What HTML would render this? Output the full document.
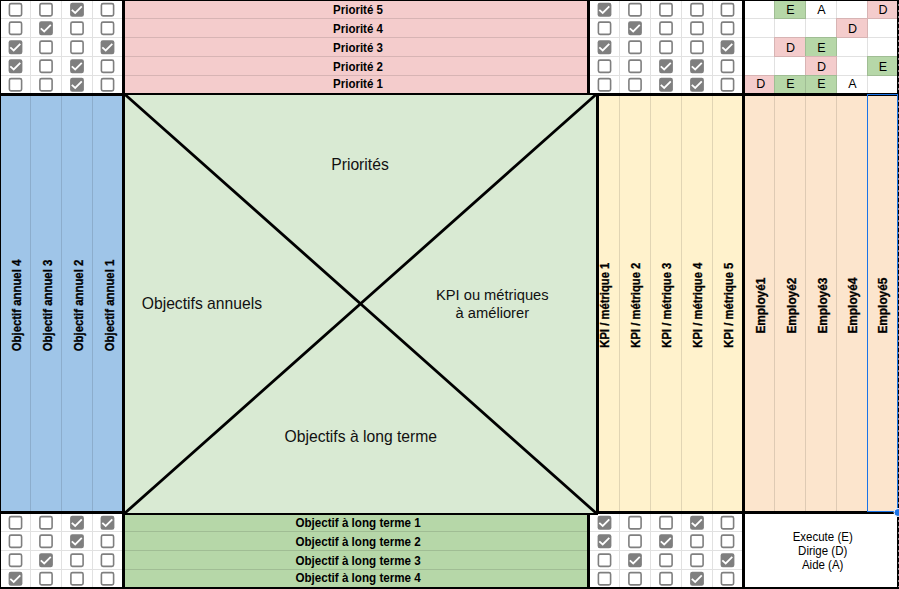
<!DOCTYPE html>
<html><head><meta charset="utf-8"><style>
html,body{margin:0;padding:0;background:#fff;overflow:hidden;width:899px;height:589px}
svg{display:block}
</style></head><body>
<svg width="899" height="589" viewBox="0 0 899 589" style="font-family:'Liberation Sans',sans-serif">
<rect x="0" y="0" width="899" height="589" fill="#fff"/>
<rect x="125" y="0" width="462" height="93" fill="#f4cccc"/>
<rect x="1" y="96" width="121" height="415" fill="#9fc5e8"/>
<rect x="125" y="95" width="471" height="418" fill="#d9ead3"/>
<rect x="599" y="96" width="143" height="415" fill="#fff2cc"/>
<rect x="745" y="96" width="152" height="415" fill="#fce5cd"/>
<rect x="125" y="515" width="462" height="72" fill="#b6d7a8"/>
<rect x="774" y="0" width="32" height="19" fill="#b6d7a8"/>
<rect x="867" y="0" width="31" height="19" fill="#f4cccc"/>
<rect x="836" y="18" width="32" height="20" fill="#f4cccc"/>
<rect x="774" y="37" width="32" height="20" fill="#f4cccc"/>
<rect x="805" y="37" width="32" height="20" fill="#b6d7a8"/>
<rect x="805" y="56" width="32" height="20" fill="#f4cccc"/>
<rect x="867" y="56" width="31" height="20" fill="#b6d7a8"/>
<rect x="744" y="75" width="31" height="19" fill="#f4cccc"/>
<rect x="774" y="75" width="32" height="19" fill="#b6d7a8"/>
<rect x="805" y="75" width="32" height="19" fill="#b6d7a8"/>
<g opacity="0.115">
<rect x="30" y="1" width="1" height="92" fill="#000"/>
<rect x="30" y="96" width="1" height="415" fill="#000"/>
<rect x="30" y="514" width="1" height="73" fill="#000"/>
<rect x="61" y="1" width="1" height="92" fill="#000"/>
<rect x="61" y="96" width="1" height="415" fill="#000"/>
<rect x="61" y="514" width="1" height="73" fill="#000"/>
<rect x="92" y="1" width="1" height="92" fill="#000"/>
<rect x="92" y="96" width="1" height="415" fill="#000"/>
<rect x="92" y="514" width="1" height="73" fill="#000"/>
<rect x="1" y="18" width="121" height="1" fill="#000"/>
<rect x="125" y="18" width="462" height="1" fill="#000"/>
<rect x="590" y="18" width="152" height="1" fill="#000"/>
<rect x="745" y="18" width="152" height="1" fill="#000"/>
<rect x="1" y="37" width="121" height="1" fill="#000"/>
<rect x="125" y="37" width="462" height="1" fill="#000"/>
<rect x="590" y="37" width="152" height="1" fill="#000"/>
<rect x="745" y="37" width="152" height="1" fill="#000"/>
<rect x="1" y="56" width="121" height="1" fill="#000"/>
<rect x="125" y="56" width="462" height="1" fill="#000"/>
<rect x="590" y="56" width="152" height="1" fill="#000"/>
<rect x="745" y="56" width="152" height="1" fill="#000"/>
<rect x="1" y="75" width="121" height="1" fill="#000"/>
<rect x="125" y="75" width="462" height="1" fill="#000"/>
<rect x="590" y="75" width="152" height="1" fill="#000"/>
<rect x="745" y="75" width="152" height="1" fill="#000"/>
<rect x="1" y="531" width="121" height="1" fill="#000"/>
<rect x="125" y="531" width="462" height="1" fill="#000"/>
<rect x="590" y="531" width="152" height="1" fill="#000"/>
<rect x="1" y="550" width="121" height="1" fill="#000"/>
<rect x="125" y="550" width="462" height="1" fill="#000"/>
<rect x="590" y="550" width="152" height="1" fill="#000"/>
<rect x="1" y="569" width="121" height="1" fill="#000"/>
<rect x="125" y="569" width="462" height="1" fill="#000"/>
<rect x="590" y="569" width="152" height="1" fill="#000"/>
<rect x="619" y="1" width="1" height="92" fill="#000"/>
<rect x="619" y="96" width="1" height="415" fill="#000"/>
<rect x="619" y="514" width="1" height="73" fill="#000"/>
<rect x="650" y="1" width="1" height="92" fill="#000"/>
<rect x="650" y="96" width="1" height="415" fill="#000"/>
<rect x="650" y="514" width="1" height="73" fill="#000"/>
<rect x="681" y="1" width="1" height="92" fill="#000"/>
<rect x="681" y="96" width="1" height="415" fill="#000"/>
<rect x="681" y="514" width="1" height="73" fill="#000"/>
<rect x="712" y="1" width="1" height="92" fill="#000"/>
<rect x="712" y="96" width="1" height="415" fill="#000"/>
<rect x="712" y="514" width="1" height="73" fill="#000"/>
<rect x="774" y="1" width="1" height="92" fill="#000"/>
<rect x="774" y="96" width="1" height="415" fill="#000"/>
<rect x="805" y="1" width="1" height="92" fill="#000"/>
<rect x="805" y="96" width="1" height="415" fill="#000"/>
<rect x="836" y="1" width="1" height="92" fill="#000"/>
<rect x="836" y="96" width="1" height="415" fill="#000"/>
<rect x="867" y="1" width="1" height="92" fill="#000"/>
<rect x="867" y="96" width="1" height="415" fill="#000"/>
</g>
<rect x="0" y="0" width="899" height="1" fill="#000"/>
<rect x="0" y="0" width="1" height="589" fill="#000"/>
<rect x="897" y="0" width="2" height="589" fill="#000"/>
<rect x="898" y="4" width="1" height="2" fill="#8a8a8a"/>
<rect x="898" y="10" width="1" height="2" fill="#8a8a8a"/>
<rect x="898" y="16" width="1" height="2" fill="#8a8a8a"/>
<rect x="898" y="22" width="1" height="2" fill="#8a8a8a"/>
<rect x="898" y="28" width="1" height="2" fill="#8a8a8a"/>
<rect x="898" y="34" width="1" height="2" fill="#8a8a8a"/>
<rect x="898" y="40" width="1" height="2" fill="#8a8a8a"/>
<rect x="898" y="46" width="1" height="2" fill="#8a8a8a"/>
<rect x="898" y="52" width="1" height="2" fill="#8a8a8a"/>
<rect x="898" y="58" width="1" height="2" fill="#8a8a8a"/>
<rect x="898" y="64" width="1" height="2" fill="#8a8a8a"/>
<rect x="898" y="70" width="1" height="2" fill="#8a8a8a"/>
<rect x="898" y="76" width="1" height="2" fill="#8a8a8a"/>
<rect x="898" y="82" width="1" height="2" fill="#8a8a8a"/>
<rect x="898" y="88" width="1" height="2" fill="#8a8a8a"/>
<rect x="898" y="94" width="1" height="2" fill="#8a8a8a"/>
<rect x="898" y="100" width="1" height="2" fill="#8a8a8a"/>
<rect x="898" y="106" width="1" height="2" fill="#8a8a8a"/>
<rect x="898" y="112" width="1" height="2" fill="#8a8a8a"/>
<rect x="898" y="118" width="1" height="2" fill="#8a8a8a"/>
<rect x="898" y="124" width="1" height="2" fill="#8a8a8a"/>
<rect x="898" y="130" width="1" height="2" fill="#8a8a8a"/>
<rect x="898" y="136" width="1" height="2" fill="#8a8a8a"/>
<rect x="898" y="142" width="1" height="2" fill="#8a8a8a"/>
<rect x="898" y="148" width="1" height="2" fill="#8a8a8a"/>
<rect x="898" y="154" width="1" height="2" fill="#8a8a8a"/>
<rect x="898" y="160" width="1" height="2" fill="#8a8a8a"/>
<rect x="898" y="166" width="1" height="2" fill="#8a8a8a"/>
<rect x="898" y="172" width="1" height="2" fill="#8a8a8a"/>
<rect x="898" y="178" width="1" height="2" fill="#8a8a8a"/>
<rect x="898" y="184" width="1" height="2" fill="#8a8a8a"/>
<rect x="898" y="190" width="1" height="2" fill="#8a8a8a"/>
<rect x="898" y="196" width="1" height="2" fill="#8a8a8a"/>
<rect x="898" y="202" width="1" height="2" fill="#8a8a8a"/>
<rect x="898" y="208" width="1" height="2" fill="#8a8a8a"/>
<rect x="898" y="214" width="1" height="2" fill="#8a8a8a"/>
<rect x="898" y="220" width="1" height="2" fill="#8a8a8a"/>
<rect x="898" y="226" width="1" height="2" fill="#8a8a8a"/>
<rect x="898" y="232" width="1" height="2" fill="#8a8a8a"/>
<rect x="898" y="238" width="1" height="2" fill="#8a8a8a"/>
<rect x="898" y="244" width="1" height="2" fill="#8a8a8a"/>
<rect x="898" y="250" width="1" height="2" fill="#8a8a8a"/>
<rect x="898" y="256" width="1" height="2" fill="#8a8a8a"/>
<rect x="898" y="262" width="1" height="2" fill="#8a8a8a"/>
<rect x="898" y="268" width="1" height="2" fill="#8a8a8a"/>
<rect x="898" y="274" width="1" height="2" fill="#8a8a8a"/>
<rect x="898" y="280" width="1" height="2" fill="#8a8a8a"/>
<rect x="898" y="286" width="1" height="2" fill="#8a8a8a"/>
<rect x="898" y="292" width="1" height="2" fill="#8a8a8a"/>
<rect x="898" y="298" width="1" height="2" fill="#8a8a8a"/>
<rect x="898" y="304" width="1" height="2" fill="#8a8a8a"/>
<rect x="898" y="310" width="1" height="2" fill="#8a8a8a"/>
<rect x="898" y="316" width="1" height="2" fill="#8a8a8a"/>
<rect x="898" y="322" width="1" height="2" fill="#8a8a8a"/>
<rect x="898" y="328" width="1" height="2" fill="#8a8a8a"/>
<rect x="898" y="334" width="1" height="2" fill="#8a8a8a"/>
<rect x="898" y="340" width="1" height="2" fill="#8a8a8a"/>
<rect x="898" y="346" width="1" height="2" fill="#8a8a8a"/>
<rect x="898" y="352" width="1" height="2" fill="#8a8a8a"/>
<rect x="898" y="358" width="1" height="2" fill="#8a8a8a"/>
<rect x="898" y="364" width="1" height="2" fill="#8a8a8a"/>
<rect x="898" y="370" width="1" height="2" fill="#8a8a8a"/>
<rect x="898" y="376" width="1" height="2" fill="#8a8a8a"/>
<rect x="898" y="382" width="1" height="2" fill="#8a8a8a"/>
<rect x="898" y="388" width="1" height="2" fill="#8a8a8a"/>
<rect x="898" y="394" width="1" height="2" fill="#8a8a8a"/>
<rect x="898" y="400" width="1" height="2" fill="#8a8a8a"/>
<rect x="898" y="406" width="1" height="2" fill="#8a8a8a"/>
<rect x="898" y="412" width="1" height="2" fill="#8a8a8a"/>
<rect x="898" y="418" width="1" height="2" fill="#8a8a8a"/>
<rect x="898" y="424" width="1" height="2" fill="#8a8a8a"/>
<rect x="898" y="430" width="1" height="2" fill="#8a8a8a"/>
<rect x="898" y="436" width="1" height="2" fill="#8a8a8a"/>
<rect x="898" y="442" width="1" height="2" fill="#8a8a8a"/>
<rect x="898" y="448" width="1" height="2" fill="#8a8a8a"/>
<rect x="898" y="454" width="1" height="2" fill="#8a8a8a"/>
<rect x="898" y="460" width="1" height="2" fill="#8a8a8a"/>
<rect x="898" y="466" width="1" height="2" fill="#8a8a8a"/>
<rect x="898" y="472" width="1" height="2" fill="#8a8a8a"/>
<rect x="898" y="478" width="1" height="2" fill="#8a8a8a"/>
<rect x="898" y="484" width="1" height="2" fill="#8a8a8a"/>
<rect x="898" y="490" width="1" height="2" fill="#8a8a8a"/>
<rect x="898" y="496" width="1" height="2" fill="#8a8a8a"/>
<rect x="898" y="502" width="1" height="2" fill="#8a8a8a"/>
<rect x="898" y="508" width="1" height="2" fill="#8a8a8a"/>
<rect x="898" y="514" width="1" height="2" fill="#8a8a8a"/>
<rect x="898" y="520" width="1" height="2" fill="#8a8a8a"/>
<rect x="898" y="526" width="1" height="2" fill="#8a8a8a"/>
<rect x="898" y="532" width="1" height="2" fill="#8a8a8a"/>
<rect x="898" y="538" width="1" height="2" fill="#8a8a8a"/>
<rect x="898" y="544" width="1" height="2" fill="#8a8a8a"/>
<rect x="898" y="550" width="1" height="2" fill="#8a8a8a"/>
<rect x="898" y="556" width="1" height="2" fill="#8a8a8a"/>
<rect x="898" y="562" width="1" height="2" fill="#8a8a8a"/>
<rect x="898" y="568" width="1" height="2" fill="#8a8a8a"/>
<rect x="898" y="574" width="1" height="2" fill="#8a8a8a"/>
<rect x="898" y="580" width="1" height="2" fill="#8a8a8a"/>
<rect x="898" y="586" width="1" height="2" fill="#8a8a8a"/>
<rect x="0" y="587" width="899" height="2" fill="#000"/>
<rect x="0" y="93" width="899" height="3" fill="#000"/>
<rect x="125" y="95" width="471" height="1" fill="#d9ead3"/>
<rect x="0" y="511" width="122" height="3" fill="#000"/>
<rect x="596" y="511" width="303" height="3" fill="#000"/>
<rect x="122" y="513" width="476" height="2" fill="#000"/>
<rect x="122" y="0" width="3" height="589" fill="#000"/>
<rect x="587" y="0" width="3" height="95" fill="#000"/>
<rect x="587" y="513" width="3" height="76" fill="#000"/>
<rect x="596" y="93" width="3" height="421" fill="#000"/>
<rect x="742" y="0" width="3" height="589" fill="#000"/>
<line x1="125" y1="94.5" x2="596" y2="513" stroke="#000" stroke-width="2.8"/>
<line x1="596" y1="94.5" x2="125" y2="513" stroke="#000" stroke-width="2.8"/>
<rect x="867.5" y="94.5" width="30" height="417" fill="none" stroke="#1a73e8" stroke-width="1"/>
<circle cx="898" cy="512.5" r="4" fill="#1a73e8" stroke="#fff" stroke-width="1"/>
<rect x="9.40" y="3.65" width="12.20" height="12.20" rx="1.6" fill="none" stroke="#7f7f7f" stroke-width="1.6"/>
<rect x="39.90" y="3.65" width="12.20" height="12.20" rx="1.6" fill="none" stroke="#7f7f7f" stroke-width="1.6"/>
<rect x="70.10" y="2.85" width="13.8" height="13.8" rx="2.2" fill="#7f7f7f"/>
<polyline points="71.80,9.85 75.20,12.95 81.80,6.35" fill="none" stroke="#fff" stroke-width="1.8"/>
<rect x="101.40" y="3.65" width="12.20" height="12.20" rx="1.6" fill="none" stroke="#7f7f7f" stroke-width="1.6"/>
<rect x="9.40" y="22.15" width="12.20" height="12.20" rx="1.6" fill="none" stroke="#7f7f7f" stroke-width="1.6"/>
<rect x="39.10" y="21.35" width="13.8" height="13.8" rx="2.2" fill="#7f7f7f"/>
<polyline points="40.80,28.35 44.20,31.45 50.80,24.85" fill="none" stroke="#fff" stroke-width="1.8"/>
<rect x="70.90" y="22.15" width="12.20" height="12.20" rx="1.6" fill="none" stroke="#7f7f7f" stroke-width="1.6"/>
<rect x="101.40" y="22.15" width="12.20" height="12.20" rx="1.6" fill="none" stroke="#7f7f7f" stroke-width="1.6"/>
<rect x="8.60" y="40.35" width="13.8" height="13.8" rx="2.2" fill="#7f7f7f"/>
<polyline points="10.30,47.35 13.70,50.45 20.30,43.85" fill="none" stroke="#fff" stroke-width="1.8"/>
<rect x="39.90" y="41.15" width="12.20" height="12.20" rx="1.6" fill="none" stroke="#7f7f7f" stroke-width="1.6"/>
<rect x="70.90" y="41.15" width="12.20" height="12.20" rx="1.6" fill="none" stroke="#7f7f7f" stroke-width="1.6"/>
<rect x="100.60" y="40.35" width="13.8" height="13.8" rx="2.2" fill="#7f7f7f"/>
<polyline points="102.30,47.35 105.70,50.45 112.30,43.85" fill="none" stroke="#fff" stroke-width="1.8"/>
<rect x="8.60" y="59.35" width="13.8" height="13.8" rx="2.2" fill="#7f7f7f"/>
<polyline points="10.30,66.35 13.70,69.45 20.30,62.85" fill="none" stroke="#fff" stroke-width="1.8"/>
<rect x="39.90" y="60.15" width="12.20" height="12.20" rx="1.6" fill="none" stroke="#7f7f7f" stroke-width="1.6"/>
<rect x="70.10" y="59.35" width="13.8" height="13.8" rx="2.2" fill="#7f7f7f"/>
<polyline points="71.80,66.35 75.20,69.45 81.80,62.85" fill="none" stroke="#fff" stroke-width="1.8"/>
<rect x="101.40" y="60.15" width="12.20" height="12.20" rx="1.6" fill="none" stroke="#7f7f7f" stroke-width="1.6"/>
<rect x="9.40" y="78.65" width="12.20" height="12.20" rx="1.6" fill="none" stroke="#7f7f7f" stroke-width="1.6"/>
<rect x="39.90" y="78.65" width="12.20" height="12.20" rx="1.6" fill="none" stroke="#7f7f7f" stroke-width="1.6"/>
<rect x="70.10" y="77.85" width="13.8" height="13.8" rx="2.2" fill="#7f7f7f"/>
<polyline points="71.80,84.85 75.20,87.95 81.80,81.35" fill="none" stroke="#fff" stroke-width="1.8"/>
<rect x="101.40" y="78.65" width="12.20" height="12.20" rx="1.6" fill="none" stroke="#7f7f7f" stroke-width="1.6"/>
<rect x="597.60" y="2.85" width="13.8" height="13.8" rx="2.2" fill="#7f7f7f"/>
<polyline points="599.30,9.85 602.70,12.95 609.30,6.35" fill="none" stroke="#fff" stroke-width="1.8"/>
<rect x="628.90" y="3.65" width="12.20" height="12.20" rx="1.6" fill="none" stroke="#7f7f7f" stroke-width="1.6"/>
<rect x="659.90" y="3.65" width="12.20" height="12.20" rx="1.6" fill="none" stroke="#7f7f7f" stroke-width="1.6"/>
<rect x="690.90" y="3.65" width="12.20" height="12.20" rx="1.6" fill="none" stroke="#7f7f7f" stroke-width="1.6"/>
<rect x="721.40" y="3.65" width="12.20" height="12.20" rx="1.6" fill="none" stroke="#7f7f7f" stroke-width="1.6"/>
<rect x="598.40" y="22.15" width="12.20" height="12.20" rx="1.6" fill="none" stroke="#7f7f7f" stroke-width="1.6"/>
<rect x="628.10" y="21.35" width="13.8" height="13.8" rx="2.2" fill="#7f7f7f"/>
<polyline points="629.80,28.35 633.20,31.45 639.80,24.85" fill="none" stroke="#fff" stroke-width="1.8"/>
<rect x="659.90" y="22.15" width="12.20" height="12.20" rx="1.6" fill="none" stroke="#7f7f7f" stroke-width="1.6"/>
<rect x="690.90" y="22.15" width="12.20" height="12.20" rx="1.6" fill="none" stroke="#7f7f7f" stroke-width="1.6"/>
<rect x="721.40" y="22.15" width="12.20" height="12.20" rx="1.6" fill="none" stroke="#7f7f7f" stroke-width="1.6"/>
<rect x="597.60" y="40.35" width="13.8" height="13.8" rx="2.2" fill="#7f7f7f"/>
<polyline points="599.30,47.35 602.70,50.45 609.30,43.85" fill="none" stroke="#fff" stroke-width="1.8"/>
<rect x="628.90" y="41.15" width="12.20" height="12.20" rx="1.6" fill="none" stroke="#7f7f7f" stroke-width="1.6"/>
<rect x="659.90" y="41.15" width="12.20" height="12.20" rx="1.6" fill="none" stroke="#7f7f7f" stroke-width="1.6"/>
<rect x="690.90" y="41.15" width="12.20" height="12.20" rx="1.6" fill="none" stroke="#7f7f7f" stroke-width="1.6"/>
<rect x="720.60" y="40.35" width="13.8" height="13.8" rx="2.2" fill="#7f7f7f"/>
<polyline points="722.30,47.35 725.70,50.45 732.30,43.85" fill="none" stroke="#fff" stroke-width="1.8"/>
<rect x="598.40" y="60.15" width="12.20" height="12.20" rx="1.6" fill="none" stroke="#7f7f7f" stroke-width="1.6"/>
<rect x="628.90" y="60.15" width="12.20" height="12.20" rx="1.6" fill="none" stroke="#7f7f7f" stroke-width="1.6"/>
<rect x="659.10" y="59.35" width="13.8" height="13.8" rx="2.2" fill="#7f7f7f"/>
<polyline points="660.80,66.35 664.20,69.45 670.80,62.85" fill="none" stroke="#fff" stroke-width="1.8"/>
<rect x="690.10" y="59.35" width="13.8" height="13.8" rx="2.2" fill="#7f7f7f"/>
<polyline points="691.80,66.35 695.20,69.45 701.80,62.85" fill="none" stroke="#fff" stroke-width="1.8"/>
<rect x="721.40" y="60.15" width="12.20" height="12.20" rx="1.6" fill="none" stroke="#7f7f7f" stroke-width="1.6"/>
<rect x="598.40" y="78.65" width="12.20" height="12.20" rx="1.6" fill="none" stroke="#7f7f7f" stroke-width="1.6"/>
<rect x="628.90" y="78.65" width="12.20" height="12.20" rx="1.6" fill="none" stroke="#7f7f7f" stroke-width="1.6"/>
<rect x="659.10" y="77.85" width="13.8" height="13.8" rx="2.2" fill="#7f7f7f"/>
<polyline points="660.80,84.85 664.20,87.95 670.80,81.35" fill="none" stroke="#fff" stroke-width="1.8"/>
<rect x="690.10" y="77.85" width="13.8" height="13.8" rx="2.2" fill="#7f7f7f"/>
<polyline points="691.80,84.85 695.20,87.95 701.80,81.35" fill="none" stroke="#fff" stroke-width="1.8"/>
<rect x="721.40" y="78.65" width="12.20" height="12.20" rx="1.6" fill="none" stroke="#7f7f7f" stroke-width="1.6"/>
<rect x="9.40" y="516.65" width="12.20" height="12.20" rx="1.6" fill="none" stroke="#7f7f7f" stroke-width="1.6"/>
<rect x="39.90" y="516.65" width="12.20" height="12.20" rx="1.6" fill="none" stroke="#7f7f7f" stroke-width="1.6"/>
<rect x="70.10" y="515.85" width="13.8" height="13.8" rx="2.2" fill="#7f7f7f"/>
<polyline points="71.80,522.85 75.20,525.95 81.80,519.35" fill="none" stroke="#fff" stroke-width="1.8"/>
<rect x="100.60" y="515.85" width="13.8" height="13.8" rx="2.2" fill="#7f7f7f"/>
<polyline points="102.30,522.85 105.70,525.95 112.30,519.35" fill="none" stroke="#fff" stroke-width="1.8"/>
<rect x="9.40" y="535.15" width="12.20" height="12.20" rx="1.6" fill="none" stroke="#7f7f7f" stroke-width="1.6"/>
<rect x="39.90" y="535.15" width="12.20" height="12.20" rx="1.6" fill="none" stroke="#7f7f7f" stroke-width="1.6"/>
<rect x="70.10" y="534.35" width="13.8" height="13.8" rx="2.2" fill="#7f7f7f"/>
<polyline points="71.80,541.35 75.20,544.45 81.80,537.85" fill="none" stroke="#fff" stroke-width="1.8"/>
<rect x="101.40" y="535.15" width="12.20" height="12.20" rx="1.6" fill="none" stroke="#7f7f7f" stroke-width="1.6"/>
<rect x="9.40" y="554.15" width="12.20" height="12.20" rx="1.6" fill="none" stroke="#7f7f7f" stroke-width="1.6"/>
<rect x="39.10" y="553.35" width="13.8" height="13.8" rx="2.2" fill="#7f7f7f"/>
<polyline points="40.80,560.35 44.20,563.45 50.80,556.85" fill="none" stroke="#fff" stroke-width="1.8"/>
<rect x="70.90" y="554.15" width="12.20" height="12.20" rx="1.6" fill="none" stroke="#7f7f7f" stroke-width="1.6"/>
<rect x="101.40" y="554.15" width="12.20" height="12.20" rx="1.6" fill="none" stroke="#7f7f7f" stroke-width="1.6"/>
<rect x="8.60" y="571.85" width="13.8" height="13.8" rx="2.2" fill="#7f7f7f"/>
<polyline points="10.30,578.85 13.70,581.95 20.30,575.35" fill="none" stroke="#fff" stroke-width="1.8"/>
<rect x="39.90" y="572.65" width="12.20" height="12.20" rx="1.6" fill="none" stroke="#7f7f7f" stroke-width="1.6"/>
<rect x="70.90" y="572.65" width="12.20" height="12.20" rx="1.6" fill="none" stroke="#7f7f7f" stroke-width="1.6"/>
<rect x="101.40" y="572.65" width="12.20" height="12.20" rx="1.6" fill="none" stroke="#7f7f7f" stroke-width="1.6"/>
<rect x="597.60" y="515.85" width="13.8" height="13.8" rx="2.2" fill="#7f7f7f"/>
<polyline points="599.30,522.85 602.70,525.95 609.30,519.35" fill="none" stroke="#fff" stroke-width="1.8"/>
<rect x="628.90" y="516.65" width="12.20" height="12.20" rx="1.6" fill="none" stroke="#7f7f7f" stroke-width="1.6"/>
<rect x="659.90" y="516.65" width="12.20" height="12.20" rx="1.6" fill="none" stroke="#7f7f7f" stroke-width="1.6"/>
<rect x="690.10" y="515.85" width="13.8" height="13.8" rx="2.2" fill="#7f7f7f"/>
<polyline points="691.80,522.85 695.20,525.95 701.80,519.35" fill="none" stroke="#fff" stroke-width="1.8"/>
<rect x="721.40" y="516.65" width="12.20" height="12.20" rx="1.6" fill="none" stroke="#7f7f7f" stroke-width="1.6"/>
<rect x="597.60" y="534.35" width="13.8" height="13.8" rx="2.2" fill="#7f7f7f"/>
<polyline points="599.30,541.35 602.70,544.45 609.30,537.85" fill="none" stroke="#fff" stroke-width="1.8"/>
<rect x="628.90" y="535.15" width="12.20" height="12.20" rx="1.6" fill="none" stroke="#7f7f7f" stroke-width="1.6"/>
<rect x="659.10" y="534.35" width="13.8" height="13.8" rx="2.2" fill="#7f7f7f"/>
<polyline points="660.80,541.35 664.20,544.45 670.80,537.85" fill="none" stroke="#fff" stroke-width="1.8"/>
<rect x="690.90" y="535.15" width="12.20" height="12.20" rx="1.6" fill="none" stroke="#7f7f7f" stroke-width="1.6"/>
<rect x="721.40" y="535.15" width="12.20" height="12.20" rx="1.6" fill="none" stroke="#7f7f7f" stroke-width="1.6"/>
<rect x="598.40" y="554.15" width="12.20" height="12.20" rx="1.6" fill="none" stroke="#7f7f7f" stroke-width="1.6"/>
<rect x="628.10" y="553.35" width="13.8" height="13.8" rx="2.2" fill="#7f7f7f"/>
<polyline points="629.80,560.35 633.20,563.45 639.80,556.85" fill="none" stroke="#fff" stroke-width="1.8"/>
<rect x="659.90" y="554.15" width="12.20" height="12.20" rx="1.6" fill="none" stroke="#7f7f7f" stroke-width="1.6"/>
<rect x="690.90" y="554.15" width="12.20" height="12.20" rx="1.6" fill="none" stroke="#7f7f7f" stroke-width="1.6"/>
<rect x="720.60" y="553.35" width="13.8" height="13.8" rx="2.2" fill="#7f7f7f"/>
<polyline points="722.30,560.35 725.70,563.45 732.30,556.85" fill="none" stroke="#fff" stroke-width="1.8"/>
<rect x="598.40" y="572.65" width="12.20" height="12.20" rx="1.6" fill="none" stroke="#7f7f7f" stroke-width="1.6"/>
<rect x="628.90" y="572.65" width="12.20" height="12.20" rx="1.6" fill="none" stroke="#7f7f7f" stroke-width="1.6"/>
<rect x="659.90" y="572.65" width="12.20" height="12.20" rx="1.6" fill="none" stroke="#7f7f7f" stroke-width="1.6"/>
<rect x="690.10" y="571.85" width="13.8" height="13.8" rx="2.2" fill="#7f7f7f"/>
<polyline points="691.80,578.85 695.20,581.95 701.80,575.35" fill="none" stroke="#fff" stroke-width="1.8"/>
<rect x="721.40" y="572.65" width="12.20" height="12.20" rx="1.6" fill="none" stroke="#7f7f7f" stroke-width="1.6"/>
<text x="358" y="13.9" font-family="Liberation Sans, sans-serif" font-size="12" font-weight="bold" text-anchor="middle" fill="#000" textLength="49.8" lengthAdjust="spacingAndGlyphs">Priorité 5</text>
<text x="358" y="33" font-family="Liberation Sans, sans-serif" font-size="12" font-weight="bold" text-anchor="middle" fill="#000" textLength="49.8" lengthAdjust="spacingAndGlyphs">Priorité 4</text>
<text x="358" y="52" font-family="Liberation Sans, sans-serif" font-size="12" font-weight="bold" text-anchor="middle" fill="#000" textLength="49.8" lengthAdjust="spacingAndGlyphs">Priorité 3</text>
<text x="358" y="71" font-family="Liberation Sans, sans-serif" font-size="12" font-weight="bold" text-anchor="middle" fill="#000" textLength="49.8" lengthAdjust="spacingAndGlyphs">Priorité 2</text>
<text x="358" y="88" font-family="Liberation Sans, sans-serif" font-size="12" font-weight="bold" text-anchor="middle" fill="#000" textLength="49.8" lengthAdjust="spacingAndGlyphs">Priorité 1</text>
<text x="358.1" y="526.6" font-family="Liberation Sans, sans-serif" font-size="12" font-weight="bold" text-anchor="middle" fill="#000" textLength="125.3" lengthAdjust="spacingAndGlyphs">Objectif à long terme 1</text>
<text x="358.1" y="545.6" font-family="Liberation Sans, sans-serif" font-size="12" font-weight="bold" text-anchor="middle" fill="#000" textLength="125.3" lengthAdjust="spacingAndGlyphs">Objectif à long terme 2</text>
<text x="358.1" y="564.7" font-family="Liberation Sans, sans-serif" font-size="12" font-weight="bold" text-anchor="middle" fill="#000" textLength="125.3" lengthAdjust="spacingAndGlyphs">Objectif à long terme 3</text>
<text x="358.1" y="581.8" font-family="Liberation Sans, sans-serif" font-size="12" font-weight="bold" text-anchor="middle" fill="#000" textLength="125.3" lengthAdjust="spacingAndGlyphs">Objectif à long terme 4</text>
<text x="790.4" y="13.9" font-family="Liberation Sans, sans-serif" font-size="13" text-anchor="middle" fill="#000" textLength="8.34" lengthAdjust="spacingAndGlyphs">E</text>
<text x="821.4" y="13.9" font-family="Liberation Sans, sans-serif" font-size="13" text-anchor="middle" fill="#000" textLength="8.34" lengthAdjust="spacingAndGlyphs">A</text>
<text x="882.9" y="13.9" font-family="Liberation Sans, sans-serif" font-size="13" text-anchor="middle" fill="#000" textLength="9.03" lengthAdjust="spacingAndGlyphs">D</text>
<text x="852.4" y="33" font-family="Liberation Sans, sans-serif" font-size="13" text-anchor="middle" fill="#000" textLength="9.03" lengthAdjust="spacingAndGlyphs">D</text>
<text x="790.4" y="52" font-family="Liberation Sans, sans-serif" font-size="13" text-anchor="middle" fill="#000" textLength="9.03" lengthAdjust="spacingAndGlyphs">D</text>
<text x="821.4" y="52" font-family="Liberation Sans, sans-serif" font-size="13" text-anchor="middle" fill="#000" textLength="8.34" lengthAdjust="spacingAndGlyphs">E</text>
<text x="821.4" y="71" font-family="Liberation Sans, sans-serif" font-size="13" text-anchor="middle" fill="#000" textLength="9.03" lengthAdjust="spacingAndGlyphs">D</text>
<text x="882.9" y="71" font-family="Liberation Sans, sans-serif" font-size="13" text-anchor="middle" fill="#000" textLength="8.34" lengthAdjust="spacingAndGlyphs">E</text>
<text x="760.6999999999999" y="88" font-family="Liberation Sans, sans-serif" font-size="13" text-anchor="middle" fill="#000" textLength="9.03" lengthAdjust="spacingAndGlyphs">D</text>
<text x="790.4" y="88" font-family="Liberation Sans, sans-serif" font-size="13" text-anchor="middle" fill="#000" textLength="8.34" lengthAdjust="spacingAndGlyphs">E</text>
<text x="821.4" y="88" font-family="Liberation Sans, sans-serif" font-size="13" text-anchor="middle" fill="#000" textLength="8.34" lengthAdjust="spacingAndGlyphs">E</text>
<text x="852.4" y="88" font-family="Liberation Sans, sans-serif" font-size="13" text-anchor="middle" fill="#000" textLength="8.34" lengthAdjust="spacingAndGlyphs">A</text>
<text x="822.7" y="540.7" font-family="Liberation Sans, sans-serif" font-size="12" text-anchor="middle" fill="#000" textLength="60.1" lengthAdjust="spacingAndGlyphs">Execute (E)</text>
<text x="822.7" y="554.6" font-family="Liberation Sans, sans-serif" font-size="12" text-anchor="middle" fill="#000" textLength="49.2" lengthAdjust="spacingAndGlyphs">Dirige (D)</text>
<text x="822.7" y="568.9" font-family="Liberation Sans, sans-serif" font-size="12" text-anchor="middle" fill="#000" textLength="41.5" lengthAdjust="spacingAndGlyphs">Aide (A)</text>
<text x="360" y="169.9" font-family="Liberation Sans, sans-serif" font-size="15.7" text-anchor="middle" fill="#111">Priorités</text>
<text x="201.9" y="308.7" font-family="Liberation Sans, sans-serif" font-size="15.7" text-anchor="middle" fill="#111">Objectifs annuels</text>
<text x="492.3" y="299.8" font-family="Liberation Sans, sans-serif" font-size="14.7" text-anchor="middle" fill="#111">KPI ou métriques</text>
<text x="492.3" y="317.8" font-family="Liberation Sans, sans-serif" font-size="14.7" text-anchor="middle" fill="#111">à améliorer</text>
<text x="360.8" y="442.2" font-family="Liberation Sans, sans-serif" font-size="15.7" text-anchor="middle" fill="#111">Objectifs à long terme</text>
<text transform="translate(20.7,305.5) rotate(-90)" font-family="Liberation Sans, sans-serif" font-size="12" font-weight="bold" text-anchor="middle" textLength="91.6" lengthAdjust="spacingAndGlyphs" fill="#000" stroke="#000" stroke-width="0.3">Objectif annuel 4</text>
<text transform="translate(51.7,305.5) rotate(-90)" font-family="Liberation Sans, sans-serif" font-size="12" font-weight="bold" text-anchor="middle" textLength="91.6" lengthAdjust="spacingAndGlyphs" fill="#000" stroke="#000" stroke-width="0.3">Objectif annuel 3</text>
<text transform="translate(82.7,305.5) rotate(-90)" font-family="Liberation Sans, sans-serif" font-size="12" font-weight="bold" text-anchor="middle" textLength="91.6" lengthAdjust="spacingAndGlyphs" fill="#000" stroke="#000" stroke-width="0.3">Objectif annuel 2</text>
<text transform="translate(113.7,305.5) rotate(-90)" font-family="Liberation Sans, sans-serif" font-size="12" font-weight="bold" text-anchor="middle" textLength="91.6" lengthAdjust="spacingAndGlyphs" fill="#000" stroke="#000" stroke-width="0.3">Objectif annuel 1</text>
<text transform="translate(609.3,305.2) rotate(-90)" font-family="Liberation Sans, sans-serif" font-size="12" font-weight="bold" text-anchor="middle" textLength="84.9" lengthAdjust="spacingAndGlyphs" fill="#000" stroke="#000" stroke-width="0.3">KPI / métrique 1</text>
<text transform="translate(640.1,305.2) rotate(-90)" font-family="Liberation Sans, sans-serif" font-size="12" font-weight="bold" text-anchor="middle" textLength="84.9" lengthAdjust="spacingAndGlyphs" fill="#000" stroke="#000" stroke-width="0.3">KPI / métrique 2</text>
<text transform="translate(671,305.2) rotate(-90)" font-family="Liberation Sans, sans-serif" font-size="12" font-weight="bold" text-anchor="middle" textLength="84.9" lengthAdjust="spacingAndGlyphs" fill="#000" stroke="#000" stroke-width="0.3">KPI / métrique 3</text>
<text transform="translate(702,305.2) rotate(-90)" font-family="Liberation Sans, sans-serif" font-size="12" font-weight="bold" text-anchor="middle" textLength="84.9" lengthAdjust="spacingAndGlyphs" fill="#000" stroke="#000" stroke-width="0.3">KPI / métrique 4</text>
<text transform="translate(733,305.2) rotate(-90)" font-family="Liberation Sans, sans-serif" font-size="12" font-weight="bold" text-anchor="middle" textLength="84.9" lengthAdjust="spacingAndGlyphs" fill="#000" stroke="#000" stroke-width="0.3">KPI / métrique 5</text>
<text transform="translate(765,305.6) rotate(-90)" font-family="Liberation Sans, sans-serif" font-size="12" font-weight="bold" text-anchor="middle" textLength="55.9" lengthAdjust="spacingAndGlyphs" fill="#000" stroke="#000" stroke-width="0.3">Employé1</text>
<text transform="translate(795.5,305.6) rotate(-90)" font-family="Liberation Sans, sans-serif" font-size="12" font-weight="bold" text-anchor="middle" textLength="55.9" lengthAdjust="spacingAndGlyphs" fill="#000" stroke="#000" stroke-width="0.3">Employé2</text>
<text transform="translate(827,305.6) rotate(-90)" font-family="Liberation Sans, sans-serif" font-size="12" font-weight="bold" text-anchor="middle" textLength="55.9" lengthAdjust="spacingAndGlyphs" fill="#000" stroke="#000" stroke-width="0.3">Employé3</text>
<text transform="translate(857.3,305.6) rotate(-90)" font-family="Liberation Sans, sans-serif" font-size="12" font-weight="bold" text-anchor="middle" textLength="55.9" lengthAdjust="spacingAndGlyphs" fill="#000" stroke="#000" stroke-width="0.3">Employé4</text>
<text transform="translate(887,305.6) rotate(-90)" font-family="Liberation Sans, sans-serif" font-size="12" font-weight="bold" text-anchor="middle" textLength="55.9" lengthAdjust="spacingAndGlyphs" fill="#000" stroke="#000" stroke-width="0.3">Employé5</text>
</svg>
</body></html>
